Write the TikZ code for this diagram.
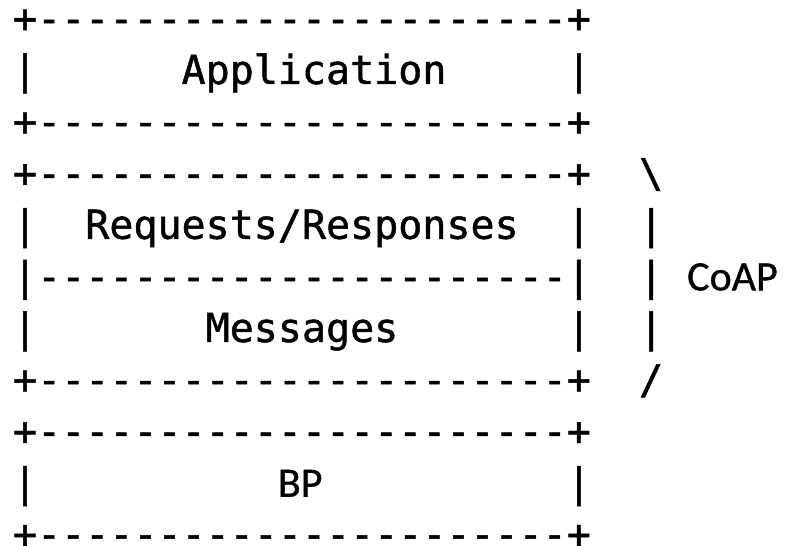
\documentclass[tikz,border=0pt]{standalone}
\usepackage{fontspec}
\newfontfamily\asciifont[Ligatures=TeXOff,FakeBold=1.2]{DejaVu Sans Mono}
\newfontfamily\calfont[FakeBold=0.8]{Carlito}
\begin{document}
\begin{tikzpicture}[x=1pt,y=1pt,
  asc/.style={inner sep=0pt, outer sep=0pt, anchor=base west, font=\asciifont\fontsize{40}{40}\selectfont},
  lbl/.style={inner sep=0pt, outer sep=0pt, anchor=base west, font=\calfont\fontsize{42}{42}\selectfont}]
\useasboundingbox (0,0) rectangle (785,546);
\node[asc] (r0) at (13,513.6) {+----------------------+};
\node[asc] (r1) at (13,462.0) {|~~~~~~Application~~~~~|};
\node[asc] (r2) at (13,410.4) {+----------------------+};
\node[asc] (r3) at (13,358.8) {+----------------------+~~\textbackslash};
\node[asc] (r4) at (13,307.2) {|~~Requests/Responses~~|~~|};
\node[asc] (r5) at (13,255.6) {|----------------------|~~|};
\node[lbl] (coap) at (687.2,255.6) {CoAP};
\node[asc] (r6) at (13,204.0) {|~~~~~~~Messages~~~~~~~|~~|};
\node[asc] (r7) at (13,152.4) {+----------------------+~~/};
\node[asc] (r8) at (13,100.8) {+----------------------+};
\node[asc] (r9) at (13,49.2) {|~~~~~~~~~~~~~~~~~~~~~~|};
\node[lbl] (bp) at (277.9,49.2) {BP};
\node[asc] (r10) at (13,-2.0) {+----------------------+};
\end{tikzpicture}
\end{document}
